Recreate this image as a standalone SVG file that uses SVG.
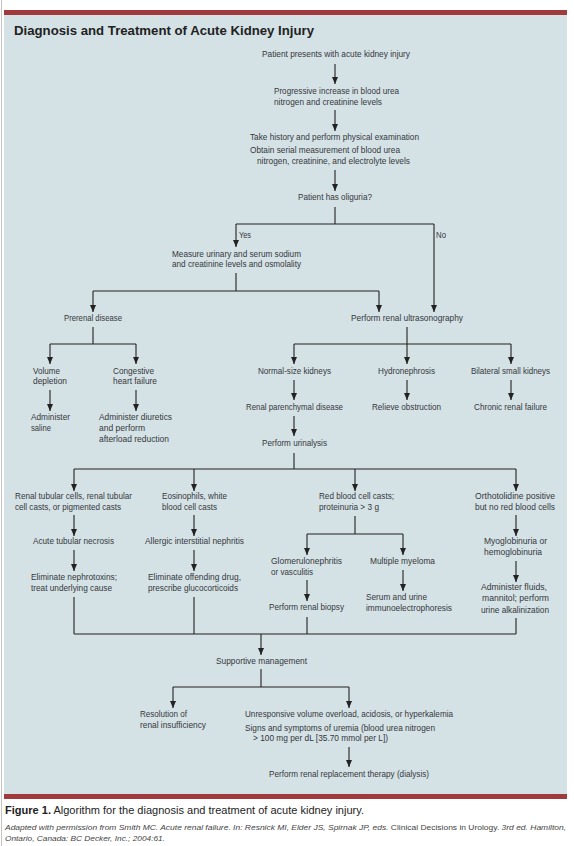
<svg xmlns="http://www.w3.org/2000/svg" width="574" height="846" viewBox="0 0 574 846">
<style>
.t{font-family:"Liberation Sans",Arial,sans-serif;font-size:8.2px;fill:#34383c;}
.ttl{font-family:"Liberation Sans",Arial,sans-serif;font-size:13px;font-weight:bold;fill:#222;}
.cap{font-family:"Liberation Sans",Arial,sans-serif;font-size:10.5px;fill:#222;}
.cit{font-family:"Liberation Sans",Arial,sans-serif;font-size:7.6px;font-style:italic;fill:#444;}
.c path{fill:none;stroke:#222;stroke-width:1.1;}
.c path.a{marker-end:url(#ah);}
</style>
<defs>
<marker id="ah" markerUnits="userSpaceOnUse" markerWidth="7" markerHeight="6" refX="7" refY="3" orient="auto">
<path d="M0,0 L7,3 L0,6 z" fill="#222"/>
</marker>
</defs>
<rect x="0" y="0" width="574" height="846" fill="#fff"/>
<line x1="1.5" y1="0" x2="1.5" y2="846" stroke="#c4c4c4" stroke-width="1"/>
<rect x="4" y="15" width="563" height="779" fill="#d4e1e5"/>
<rect x="4" y="10" width="563" height="5" fill="#a03a3d"/>
<rect x="4" y="794" width="563" height="5" fill="#a03a3d"/>
<text class="ttl" x="14" y="35" textLength="300" lengthAdjust="spacingAndGlyphs">Diagnosis and Treatment of Acute Kidney Injury</text>

<g class="c" id="connectors">
<path class="a" d="M335,64 V84"/>
<path class="a" d="M335,110 V131"/>
<path class="a" d="M335,170 V191"/>
<path d="M335,207 V224"/>
<path d="M236,224 H434"/>
<path class="a" d="M236,224 V247"/>
<path class="a" d="M434,224 V312"/>
<path d="M236,273 V291"/>
<path d="M93,291 H379"/>
<path class="a" d="M93,291 V312"/>
<path class="a" d="M379,291 V312"/>
<path d="M93,327 V344"/>
<path d="M50,344 H136"/>
<path class="a" d="M50,344 V364"/>
<path class="a" d="M136,344 V364"/>
<path d="M407,327 V344"/>
<path d="M294,344 H511"/>
<path class="a" d="M294,344 V364"/>
<path class="a" d="M407,344 V364"/>
<path class="a" d="M511,344 V364"/>
<path class="a" d="M50,390 V411"/>
<path class="a" d="M136,390 V411"/>
<path class="a" d="M294,380 V400"/>
<path class="a" d="M407,380 V400"/>
<path class="a" d="M511,380 V400"/>
<path class="a" d="M294,416 V436"/>
<path d="M294,453 V469"/>
<path d="M74,469 H516"/>
<path class="a" d="M74,469 V491"/>
<path class="a" d="M194,469 V491"/>
<path class="a" d="M355,469 V491"/>
<path class="a" d="M516,469 V491"/>
<path class="a" d="M74,515 V536"/>
<path class="a" d="M194,515 V536"/>
<path class="a" d="M516,515 V536"/>
<path d="M355,516 V534"/>
<path d="M307,534 H403"/>
<path class="a" d="M307,534 V555"/>
<path class="a" d="M403,534 V555"/>
<path class="a" d="M74,550 V571"/>
<path class="a" d="M194,550 V571"/>
<path class="a" d="M516,561 V582"/>
<path class="a" d="M307,580 V601"/>
<path class="a" d="M403,570 V591"/>
<path d="M74,597 V634"/>
<path d="M194,597 V634"/>
<path d="M307,617 V634"/>
<path d="M516,618 V634"/>
<path d="M74,634 H516"/>
<path class="a" d="M261,634 V655"/>
<path d="M261,669 V687"/>
<path d="M173,687 H349"/>
<path class="a" d="M173,687 V708"/>
<path class="a" d="M349,687 V708"/>
<path class="a" d="M349,747 V767"/>
</g>

<g id="n1"><text class="t" x="262" y="57" textLength="148" lengthAdjust="spacingAndGlyphs">Patient presents with acute kidney injury</text></g>
<g id="n2"><text class="t" x="274" y="94" textLength="125" lengthAdjust="spacingAndGlyphs">Progressive increase in blood urea</text>
<text class="t" x="274" y="105" textLength="108" lengthAdjust="spacingAndGlyphs">nitrogen and creatinine levels</text></g>
<g id="n3"><text class="t" x="250" y="140" textLength="169" lengthAdjust="spacingAndGlyphs">Take history and perform physical examination</text>
<text class="t" x="250" y="153" textLength="150" lengthAdjust="spacingAndGlyphs">Obtain serial measurement of blood urea</text>
<text class="t" x="257" y="164" textLength="153" lengthAdjust="spacingAndGlyphs">nitrogen, creatinine, and electrolyte levels</text></g>
<g id="n4"><text class="t" x="298" y="200" textLength="74" lengthAdjust="spacingAndGlyphs">Patient has oliguria?</text></g>
<g id="lbl-yes"><text class="t" x="239" y="238" textLength="12" lengthAdjust="spacingAndGlyphs">Yes</text></g>
<g id="lbl-no"><text class="t" x="436" y="238" textLength="10" lengthAdjust="spacingAndGlyphs">No</text></g>
<g id="n5"><text class="t" x="172" y="257" textLength="129" lengthAdjust="spacingAndGlyphs">Measure urinary and serum sodium</text>
<text class="t" x="172" y="267" textLength="129" lengthAdjust="spacingAndGlyphs">and creatinine levels and osmolality</text></g>
<g id="n-prerenal"><text class="t" x="64" y="321" textLength="58" lengthAdjust="spacingAndGlyphs">Prerenal disease</text></g>
<g id="n-us"><text class="t" x="351" y="321" textLength="112" lengthAdjust="spacingAndGlyphs">Perform renal ultrasonography</text></g>
<g id="n-volume"><text class="t" x="33" y="374" textLength="27" lengthAdjust="spacingAndGlyphs">Volume</text>
<text class="t" x="33" y="384" textLength="34" lengthAdjust="spacingAndGlyphs">depletion</text></g>
<g id="n-chf"><text class="t" x="113" y="374" textLength="41" lengthAdjust="spacingAndGlyphs">Congestive</text>
<text class="t" x="113" y="384" textLength="44" lengthAdjust="spacingAndGlyphs">heart failure</text></g>
<g id="n-normal"><text class="t" x="258" y="374" textLength="73" lengthAdjust="spacingAndGlyphs">Normal-size kidneys</text></g>
<g id="n-hydro"><text class="t" x="378" y="374" textLength="57" lengthAdjust="spacingAndGlyphs">Hydronephrosis</text></g>
<g id="n-small"><text class="t" x="471" y="374" textLength="79" lengthAdjust="spacingAndGlyphs">Bilateral small kidneys</text></g>
<g id="n-saline"><text class="t" x="31" y="420" textLength="39" lengthAdjust="spacingAndGlyphs">Administer</text>
<text class="t" x="31" y="431" textLength="20" lengthAdjust="spacingAndGlyphs">saline</text></g>
<g id="n-diuretics"><text class="t" x="99" y="420" textLength="73" lengthAdjust="spacingAndGlyphs">Administer diuretics</text>
<text class="t" x="99" y="431" textLength="46" lengthAdjust="spacingAndGlyphs">and perform</text>
<text class="t" x="99" y="442" textLength="70" lengthAdjust="spacingAndGlyphs">afterload reduction</text></g>
<g id="n-parench"><text class="t" x="246" y="410" textLength="97" lengthAdjust="spacingAndGlyphs">Renal parenchymal disease</text></g>
<g id="n-relieve"><text class="t" x="372" y="410" textLength="69" lengthAdjust="spacingAndGlyphs">Relieve obstruction</text></g>
<g id="n-crf"><text class="t" x="474" y="410" textLength="73" lengthAdjust="spacingAndGlyphs">Chronic renal failure</text></g>
<g id="n-urinalysis"><text class="t" x="262" y="446" textLength="65" lengthAdjust="spacingAndGlyphs">Perform urinalysis</text></g>
<g id="n-tubular"><text class="t" x="15" y="499" textLength="117" lengthAdjust="spacingAndGlyphs">Renal tubular cells, renal tubular</text>
<text class="t" x="15" y="510" textLength="106" lengthAdjust="spacingAndGlyphs">cell casts, or pigmented casts</text></g>
<g id="n-eos"><text class="t" x="162" y="499" textLength="65" lengthAdjust="spacingAndGlyphs">Eosinophils, white</text>
<text class="t" x="162" y="510" textLength="55" lengthAdjust="spacingAndGlyphs">blood cell casts</text></g>
<g id="n-rbc"><text class="t" x="319" y="499" textLength="75" lengthAdjust="spacingAndGlyphs">Red blood cell casts;</text>
<text class="t" x="319" y="510" textLength="60" lengthAdjust="spacingAndGlyphs">proteinuria &gt; 3 g</text></g>
<g id="n-ortho"><text class="t" x="475" y="499" textLength="80" lengthAdjust="spacingAndGlyphs">Orthotolidine positive</text>
<text class="t" x="475" y="510" textLength="80" lengthAdjust="spacingAndGlyphs">but no red blood cells</text></g>
<g id="n-atn"><text class="t" x="33" y="544" textLength="81" lengthAdjust="spacingAndGlyphs">Acute tubular necrosis</text></g>
<g id="n-ain"><text class="t" x="145" y="544" textLength="99" lengthAdjust="spacingAndGlyphs">Allergic interstitial nephritis</text></g>
<g id="n-myo"><text class="t" x="484" y="544" textLength="63" lengthAdjust="spacingAndGlyphs">Myoglobinuria or</text>
<text class="t" x="484" y="555" textLength="58" lengthAdjust="spacingAndGlyphs">hemoglobinuria</text></g>
<g id="n-elimnephro"><text class="t" x="31" y="580" textLength="86" lengthAdjust="spacingAndGlyphs">Eliminate nephrotoxins;</text>
<text class="t" x="31" y="591" textLength="81" lengthAdjust="spacingAndGlyphs">treat underlying cause</text></g>
<g id="n-elimdrug"><text class="t" x="148" y="580" textLength="93" lengthAdjust="spacingAndGlyphs">Eliminate offending drug,</text>
<text class="t" x="148" y="591" textLength="90" lengthAdjust="spacingAndGlyphs">prescribe glucocorticoids</text></g>
<g id="n-glom"><text class="t" x="271" y="564" textLength="71" lengthAdjust="spacingAndGlyphs">Glomerulonephritis</text>
<text class="t" x="271" y="575" textLength="42" lengthAdjust="spacingAndGlyphs">or vasculitis</text></g>
<g id="n-myeloma"><text class="t" x="370" y="564" textLength="65" lengthAdjust="spacingAndGlyphs">Multiple myeloma</text></g>
<g id="n-serum"><text class="t" x="366" y="600" textLength="61" lengthAdjust="spacingAndGlyphs">Serum and urine</text>
<text class="t" x="366" y="611" textLength="86" lengthAdjust="spacingAndGlyphs">immunoelectrophoresis</text></g>
<g id="n-biopsy"><text class="t" x="269" y="610" textLength="75" lengthAdjust="spacingAndGlyphs">Perform renal biopsy</text></g>
<g id="n-fluids"><text class="t" x="481" y="590" textLength="66" lengthAdjust="spacingAndGlyphs">Administer fluids,</text>
<text class="t" x="482" y="601" textLength="67" lengthAdjust="spacingAndGlyphs">mannitol; perform</text>
<text class="t" x="481" y="613" textLength="68" lengthAdjust="spacingAndGlyphs">urine alkalinization</text></g>
<g id="n-supportive"><text class="t" x="216" y="664" textLength="91" lengthAdjust="spacingAndGlyphs">Supportive management</text></g>
<g id="n-resolution"><text class="t" x="140" y="717" textLength="47" lengthAdjust="spacingAndGlyphs">Resolution of</text>
<text class="t" x="140" y="728" textLength="66" lengthAdjust="spacingAndGlyphs">renal insufficiency</text></g>
<g id="n-unresponsive"><text class="t" x="245" y="717" textLength="208" lengthAdjust="spacingAndGlyphs">Unresponsive volume overload, acidosis, or hyperkalemia</text>
<text class="t" x="245" y="731" textLength="190" lengthAdjust="spacingAndGlyphs">Signs and symptoms of uremia (blood urea nitrogen</text>
<text class="t" x="253" y="741" textLength="135" lengthAdjust="spacingAndGlyphs">&gt; 100 mg per dL [35.70 mmol per L])</text></g>
<g id="n-dialysis"><text class="t" x="269" y="777" textLength="160" lengthAdjust="spacingAndGlyphs">Perform renal replacement therapy (dialysis)</text></g>

<text class="cap" x="5" y="814" textLength="359" lengthAdjust="spacingAndGlyphs"><tspan font-weight="bold">Figure 1.</tspan> Algorithm for the diagnosis and treatment of acute kidney injury.</text>
<text class="cit" x="5" y="830" textLength="561" lengthAdjust="spacingAndGlyphs">Adapted with permission from Smith MC. Acute renal failure. In: Resnick MI, Elder JS, Spirnak JP, eds. <tspan font-style="normal">Clinical Decisions in Urology.</tspan> 3rd ed. Hamilton,</text>
<text class="cit" x="5" y="841" textLength="160" lengthAdjust="spacingAndGlyphs">Ontario, Canada: BC Decker, Inc.; 2004:61.</text>
</svg>
